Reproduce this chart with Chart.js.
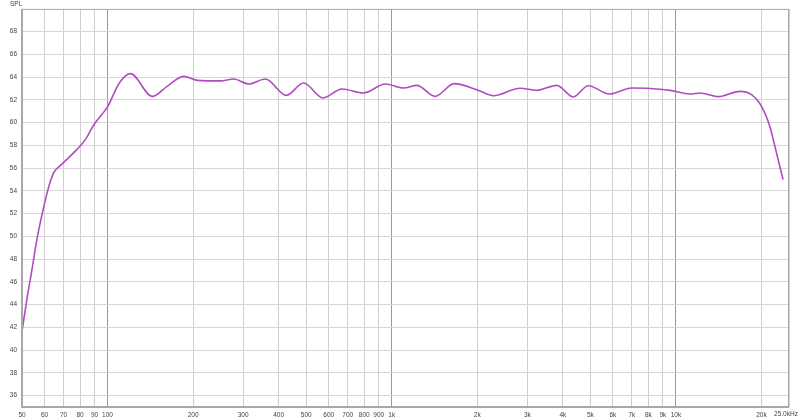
<!DOCTYPE html>
<html>
<head>
<meta charset="utf-8">
<script src="https://cdn.jsdelivr.net/npm/chart.js@4/dist/chart.umd.min.js"></script>
<style>
  html, body { margin: 0; padding: 0; background: #fff; }
  #wrap { position: relative; width: 800px; height: 420px; }
  #spl { position: absolute; left: 10px; top: 0px; font: 6.5px "Liberation Sans", sans-serif; color: #444; }
</style>
</head>
<body>
<div id="wrap">
  <canvas id="c" width="800" height="420"></canvas>
  <div id="spl">SPL</div>
</div>
<script>
// frequency (Hz) and SPL (dB)
const freqs = [50, 52, 54.2, 56.4, 58.8, 61.7, 64.6, 68.2, 75.9, 83.5, 89.5, 100.2, 110, 120.5,
  143.6, 162.1, 185.4, 206.7, 249.6, 277.9, 313.9, 359.3, 425.8, 489.8, 573, 668.3, 795.8,
  948.8, 1100, 1226, 1422, 1658, 1993, 2280, 2829, 3239, 3808, 4355, 4917, 5829, 6987, 7889,
  9526, 11200, 12150, 14080, 16790, 18450, 20010, 21400, 22590, 23830];
const spl = [41.65, 44.44, 47.08, 49.71, 51.91, 54.11, 55.58, 56.22, 57.34, 58.51, 59.82, 61.43, 63.49, 64.31,
  62.31, 63.19, 64.07, 63.72, 63.67, 63.84, 63.40, 63.84, 62.40, 63.49, 62.17, 62.96, 62.61,
  63.40, 63.05, 63.28, 62.31, 63.43, 62.90, 62.37, 63.02, 62.84, 63.28, 62.26, 63.25, 62.52, 63.05, 63.02,
  62.84, 62.52, 62.61, 62.29, 62.75, 62.46, 61.43, 59.67, 57.34, 54.99];

const xTicks = [50, 60, 70, 80, 90, 100, 200, 300, 400, 500, 600, 700, 800, 900,
  1000, 2000, 3000, 4000, 5000, 6000, 7000, 8000, 9000, 10000, 20000, 25000];
const xLabels = ['50', '60', '70', '80', '90', '100', '200', '300', '400', '500', '600', '700', '800', '900',
  '1k', '2k', '3k', '4k', '5k', '6k', '7k', '8k', '9k', '10k', '20k', '25.0kHz'];
const yTicks = [36, 38, 40, 42, 44, 46, 48, 50, 52, 54, 56, 58, 60, 62, 64, 66, 68];

const decades = [100, 1000, 10000];
const tickFont = { family: 'Liberation Sans', size: 6.5 };

// frame round the plot + the last x label, nudged like the original
const framePlugin = {
  id: 'frame',
  afterDraw(chart) {
    const { ctx, chartArea: a, scales } = chart;
    ctx.save();
    ctx.strokeStyle = '#a8a8a8';
    ctx.lineWidth = 1;
    ctx.strokeRect(a.left + 0.5, a.top + 0.5, a.right - a.left - 1, a.bottom - a.top - 1);
    ctx.lineWidth = 2;
    ctx.beginPath();
    ctx.moveTo(a.left, a.top);
    ctx.lineTo(a.left, a.bottom);
    ctx.lineTo(a.right, a.bottom);
    ctx.stroke();
    ctx.fillStyle = '#444';
    ctx.font = '6.5px "Liberation Sans"';
    ctx.textAlign = 'center';
    ctx.textBaseline = 'top';
    const last = xTicks[xTicks.length - 1];
    ctx.fillText(xLabels[xLabels.length - 1], scales.x.getPixelForValue(last) - 3, a.bottom + 4);
    ctx.restore();
  }
};

new Chart(document.getElementById('c'), {
  type: 'line',
  data: {
    datasets: [{
      data: freqs.map((f, i) => ({ x: f, y: spl[i] })),
      borderColor: '#b04cc0',
      borderWidth: 1.6,
      pointRadius: 0,
      cubicInterpolationMode: 'monotone',
      fill: false,
    }],
  },
  options: {
    responsive: false,
    animation: false,
    layout: { padding: { top: 8, right: 11, left: 0, bottom: 0 } },
    plugins: { legend: { display: false }, tooltip: { enabled: false } },
    scales: {
      x: {
        type: 'logarithmic',
        min: 50,
        max: 25000,
        afterBuildTicks: s => { s.ticks = xTicks.map(v => ({ value: v })); },
        afterFit: s => { s.height = 13; s.paddingLeft = 0; s.paddingRight = 0; },
        border: { display: false },
        grid: {
          drawTicks: false,
          color: c => decades.includes(c.tick && c.tick.value) ? '#9a9a9a' : '#cfcfcf',
          lineWidth: 1,
        },
        ticks: {
          autoSkip: false,
          maxRotation: 0,
          padding: 4,
          color: '#444',
          font: tickFont,
          callback: (v, i) => i === xTicks.length - 1 ? '' : xLabels[i],
        },
      },
      y: {
        min: 35,
        max: 70,
        afterBuildTicks: s => { s.ticks = yTicks.map(v => ({ value: v })); },
        afterFit: s => { s.width = 22; },
        border: { display: false },
        grid: { drawTicks: false, color: '#d6d6d6', lineWidth: 1 },
        ticks: { padding: 5, color: '#444', font: tickFont },
      },
    },
  },
  plugins: [framePlugin],
});
</script>
</body>
</html>
